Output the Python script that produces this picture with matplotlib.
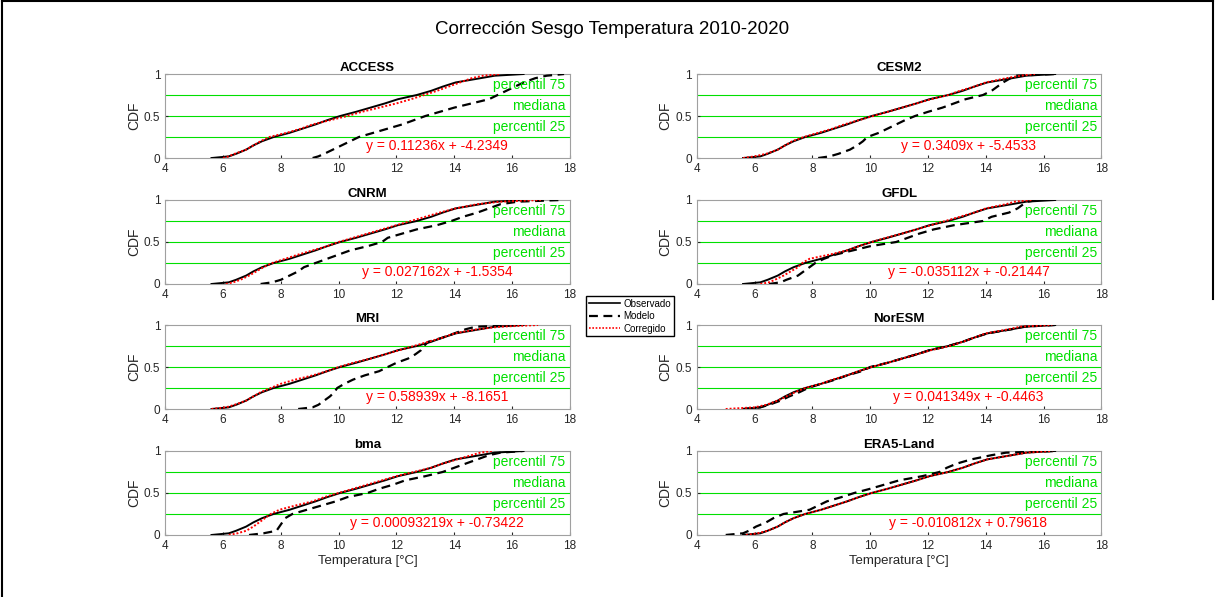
import numpy as np
import matplotlib.pyplot as plt
from matplotlib.lines import Line2D

plt.rcParams['font.family'] = ['Liberation Sans', 'DejaVu Sans']

# niveles de probabilidad en los que se leen los cuantiles
niveles = [0, 0.02, 0.05, 0.1, 0.15, 0.2, 0.25, 0.3, 0.35, 0.4, 0.45, 0.5,
           0.55, 0.6, 0.65, 0.7, 0.75, 0.8, 0.85, 0.9, 0.95, 0.98, 1.0]

# temperatura observada (igual para todos los modelos)
observado = [5.6, 6.2, 6.45, 6.8, 7.05, 7.35, 7.75, 8.3, 8.75, 9.2, 9.6, 10.05,
             10.6, 11.1, 11.6, 12.05, 12.7, 13.2, 13.6, 14.05, 14.9, 15.4, 16.4]

modelos = ["ACCESS", "CESM2", "CNRM", "GFDL", "MRI", "NorESM", "bma", "ERA5-Land"]

mod_access = [9.1, 9.3, 9.5, 9.8, 10.1, 10.4, 10.7, 11.2, 11.7, 12.2, 12.6, 13.0,
              13.5, 14.0, 14.6, 15.2, 15.5, 15.8, 16.1, 16.4, 16.8, 17.2, 17.8]
cor_access = [6.0, 6.2, 6.4, 6.8, 7.05, 7.3, 7.6, 8.2, 8.7, 9.1, 9.7, 10.3,
              10.8, 11.4, 12.0, 12.5, 12.95, 13.4, 13.8, 14.2, 14.6, 15.0, 15.6]

mod_cesm2 = [8.2, 8.6, 8.9, 9.3, 9.55, 9.75, 9.9, 10.3, 10.6, 10.9, 11.2, 11.55,
             12.0, 12.5, 12.9, 13.3, 13.9, 14.2, 14.4, 14.6, 14.85, 15.0, 16.4]
cor_cesm2 = [5.6, 6.0, 6.4, 6.8, 7.05, 7.3, 7.7, 8.2, 8.7, 9.1, 9.6, 10.1,
             10.6, 11.1, 11.6, 12.1, 12.7, 13.1, 13.6, 14.0, 14.7, 15.2, 15.7]

mod_cnrm = [7.3, 7.7, 8.0, 8.3, 8.6, 8.8, 9.2, 9.6, 10.0, 10.4, 11.0, 11.5,
            11.7, 12.2, 12.7, 13.4, 13.9, 14.3, 14.8, 15.2, 15.6, 16.2, 17.7]
cor_cnrm = [6.1, 6.35, 6.6, 6.9, 7.15, 7.4, 7.7, 8.15, 8.6, 9.1, 9.6, 10.0,
            10.5, 11.0, 11.5, 12.0, 12.5, 13.0, 13.5, 14.05, 14.8, 15.6, 17.0]

mod_gfdl = [6.5, 6.9, 7.1, 7.5, 7.7, 7.9, 8.1, 8.4, 8.8, 9.4, 10.0, 10.9,
            11.3, 11.7, 12.2, 12.9, 13.9, 14.2, 14.8, 15.1, 15.3, 15.45, 15.8]
cor_gfdl = [6.2, 6.5, 6.7, 7.0, 7.25, 7.5, 7.65, 7.9, 8.6, 9.2, 9.6, 10.05,
            10.55, 11.1, 11.6, 12.1, 12.6, 13.1, 13.6, 14.0, 14.7, 15.0, 15.6]

mod_mri = [8.6, 9.1, 9.3, 9.5, 9.7, 9.85, 9.95, 10.2, 10.5, 10.9, 11.4, 11.7,
           12.0, 12.4, 12.65, 12.85, 12.95, 13.1, 13.6, 14.0, 14.4, 14.75, 16.3]
cor_mri = [5.6, 6.1, 6.4, 6.8, 7.05, 7.3, 7.65, 8.0, 8.5, 9.1, 9.6, 10.0,
           10.5, 11.1, 11.6, 12.1, 12.6, 13.1, 13.6, 14.0, 14.8, 15.6, 16.9]

mod_noresm = [5.6, 6.2, 6.5, 6.9, 7.2, 7.55, 7.85, 8.3, 8.8, 9.2, 9.7, 10.0,
              10.6, 11.1, 11.6, 12.05, 12.7, 13.2, 13.6, 14.05, 14.9, 15.3, 16.4]
cor_noresm = [5.0, 6.0, 6.4, 6.8, 7.1, 7.4, 7.75, 8.3, 8.7, 9.2, 9.6, 10.05,
              10.6, 11.1, 11.6, 12.1, 12.75, 13.2, 13.6, 14.0, 14.8, 15.2, 16.3]

mod_bma = [6.9, 7.4, 7.85, 7.95, 8.05, 8.15, 8.4, 8.9, 9.4, 9.9, 10.3, 11.0,
           11.4, 11.9, 12.3, 13.0, 13.6, 14.0, 14.4, 14.8, 15.2, 15.6, 16.4]
cor_bma = [6.2, 6.5, 6.8, 7.05, 7.25, 7.45, 7.65, 7.95, 8.5, 9.1, 9.5, 10.0,
           10.5, 11.0, 11.5, 12.0, 12.6, 13.2, 13.6, 14.1, 14.6, 14.9, 15.3]

mod_era5 = [5.0, 5.6, 5.8, 6.05, 6.4, 6.65, 7.0, 7.9, 8.2, 8.5, 9.0, 9.45,
            10.0, 10.5, 11.0, 11.8, 12.4, 12.65, 13.0, 13.5, 14.2, 14.7, 16.4]
cor_era5 = [5.7, 6.1, 6.45, 6.8, 7.05, 7.35, 7.75, 8.3, 8.75, 9.2, 9.6, 10.05,
            10.6, 11.1, 11.6, 12.05, 12.7, 13.2, 13.6, 14.05, 14.9, 15.4, 16.3]

modelado = [mod_access, mod_cesm2, mod_cnrm, mod_gfdl, mod_mri, mod_noresm, mod_bma, mod_era5]
corregido = [cor_access, cor_cesm2, cor_cnrm, cor_gfdl, cor_mri, cor_noresm, cor_bma, cor_era5]

ecuaciones = ["y = 0.11236x + -4.2349", "y = 0.3409x + -5.4533",
              "y = 0.027162x + -1.5354", "y = -0.035112x + -0.21447",
              "y = 0.58939x + -8.1651", "y = 0.041349x + -0.4463",
              "y = 0.00093219x + -0.73422", "y = -0.010812x + 0.79618"]

verde = '#00e000'
gris = '#262626'

fig = plt.figure(figsize=(12.15, 5.97), dpi=100)
fig.suptitle("Corrección Sesgo Temperatura 2010-2020", x=0.504, y=0.965, fontsize=13.5)

izq = [0.136, 0.5735]
abajo = [0.7353, 0.5243, 0.3149, 0.1039]
ancho, alto = 0.3330, 0.1407

for i, nombre in enumerate(modelos):
    fila, col = i // 2, i % 2
    ax = fig.add_axes([izq[col], abajo[fila], ancho, alto])

    for q in (0.25, 0.5, 0.75):
        ax.axhline(q, color=verde, lw=0.8, zorder=1)

    ax.plot(observado, niveles, color='k', lw=1.4, zorder=3)
    ax.plot(modelado[i], niveles, color='k', lw=1.6, ls=(0, (4, 2.5)), zorder=3)
    ax.plot(corregido[i], niveles, color='red', lw=1.4, ls=(0, (1, 1)), zorder=4)

    ax.text(17.85, 0.87, "percentil 75", color=verde, ha='right', va='center', fontsize=10)
    ax.text(17.85, 0.62, "mediana", color=verde, ha='right', va='center', fontsize=10)
    ax.text(17.85, 0.37, "percentil 25", color=verde, ha='right', va='center', fontsize=10)
    ax.text(13.4, 0.14, ecuaciones[i], color='red', ha='center', va='center', fontsize=10)

    ax.set_xlim(4, 18)
    ax.set_ylim(0, 1)
    ax.set_xticks(range(4, 19, 2))
    ax.set_yticks([0, 0.5, 1])
    ax.set_yticklabels(["0", "0.5", "1"])
    ax.tick_params(labelsize=8.5, colors=gris, length=2, direction='in',
                   top=False, right=False)
    for s in ax.spines.values():
        s.set_color('#a0a0a0')
        s.set_linewidth(0.8)
    ax.set_ylabel("CDF", fontsize=10, color=gris, labelpad=2)
    ax.set_title(nombre, fontsize=9.5, fontweight='bold', pad=2)
    if fila == 3:
        ax.set_xlabel("Temperatura [°C]", fontsize=9.5, color=gris, labelpad=2)

manejadores = [Line2D([], [], color='k', lw=1.2),
               Line2D([], [], color='k', lw=1.6, ls=(0, (4, 2.5))),
               Line2D([], [], color='red', lw=1.2, ls=(0, (1, 1)))]
fig.legend(manejadores, ["Observado", "Modelo", "Corregido"],
           loc='center', bbox_to_anchor=(0.5185, 0.4705), fontsize=7,
           frameon=True, fancybox=False, edgecolor='k', framealpha=1,
           handlelength=3.2, handletextpad=0.3, labelspacing=0.25,
           borderpad=0.3, borderaxespad=0)

# marco de la figura
fig.add_artist(Line2D([0.002, 0.002], [0.0, 0.998], color='k', lw=1.5))
fig.add_artist(Line2D([0.002, 0.998], [0.998, 0.998], color='k', lw=1.5))
fig.add_artist(Line2D([0.998, 0.998], [0.5, 0.998], color='k', lw=1.5))

fig.savefig("out.png", dpi=100)
